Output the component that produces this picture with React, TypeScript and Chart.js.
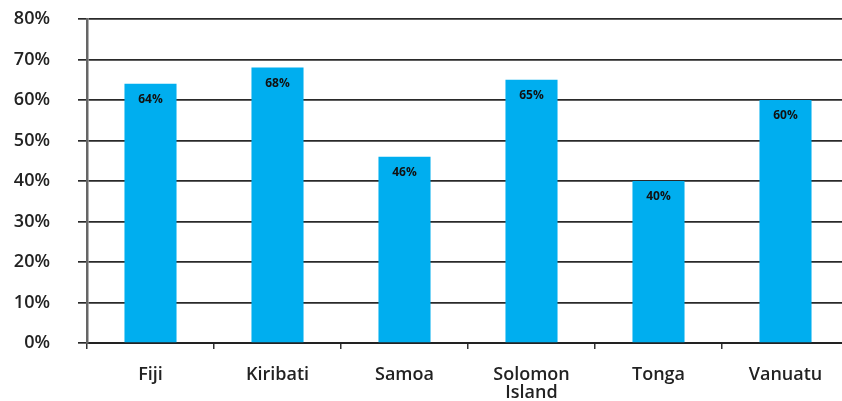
import React, { useEffect, useRef } from "react";
import { Chart, registerables } from "chart.js";

Chart.register(...registerables);

const categories: (string | string[])[] = ["Fiji", "Kiribati", "Samoa", ["Solomon", "Island"], "Tonga", "Vanuatu"];
const values: number[] = [64, 68, 46, 65, 40, 60];
const yTicks: number[] = [0, 10, 20, 30, 40, 50, 60, 70, 80];

const FONT = "'Open Sans', 'DejaVu Sans', sans-serif";

const barLabels = {
  id: "barLabels",
  afterDatasetsDraw(chart: any) {
    const ctx = chart.ctx;
    const meta = chart.getDatasetMeta(0);
    ctx.save();
    ctx.font = `700 12px ${FONT}`;
    ctx.fillStyle = "#111";
    ctx.textAlign = "center";
    ctx.textBaseline = "middle";
    meta.data.forEach((bar: any, i: number) => {
      ctx.fillText(values[i] + "%", bar.x, bar.y + 16);
    });
    ctx.restore();
  },
};

export default function App() {
  const ref = useRef<HTMLCanvasElement | null>(null);
  useEffect(() => {
    if (!ref.current) return;
    const chart = new Chart(ref.current, {
      type: "bar",
      data: {
        labels: categories,
        datasets: [
          {
            data: values,
            backgroundColor: "#00AEEF",
            borderWidth: 0,
            barPercentage: 0.41,
            categoryPercentage: 1,
          },
        ],
      },
      options: {
        responsive: false,
        animation: false,
        layout: { padding: { top: 19, left: 0, right: 40, bottom: 0 } },
        plugins: { legend: { display: false }, tooltip: { enabled: false } },
        scales: {
          x: {
            afterFit: (s: any) => {
              s.height = 58;
            },
            grid: {
              display: true,
              drawOnChartArea: false,
              drawTicks: true,
              tickLength: 6,
              color: "#333",
              lineWidth: 1.5,
              offset: true,
            },
            border: { display: true, color: "#222", width: 2 },
            ticks: {
              color: "#222",
              font: { family: FONT, size: 18, weight: "600" as any, lineHeight: 1.05 },
              padding: 16,
              maxRotation: 0,
              autoSkip: false,
            },
          },
          y: {
            min: 0,
            max: 80,
            afterFit: (s: any) => {
              s.width = 87;
              s.paddingTop = 10;
              s.paddingBottom = 10;
            },
            afterBuildTicks: (s: any) => {
              s.ticks = yTicks.map((v) => ({ value: v }));
            },
            grid: {
              color: "#2a2a2a",
              lineWidth: 1.7,
              drawTicks: true,
              tickLength: 9,
            },
            border: { display: true, color: "#666", width: 2.5 },
            ticks: {
              color: "#222",
              font: { family: FONT, size: 18, weight: "600" as any },
              padding: 28,
              callback: (v: any) => v + "%",
            },
          },
        },
      },
      plugins: [barLabels],
    });
    return () => chart.destroy();
  }, []);
  return (
    <div style={{ position: "fixed", left: 0, top: 0, width: 842, height: 401, overflow: "hidden", background: "#fff" }}>
      <canvas ref={ref} width={889} height={401} style={{ display: "block" }} />
    </div>
  );
}
